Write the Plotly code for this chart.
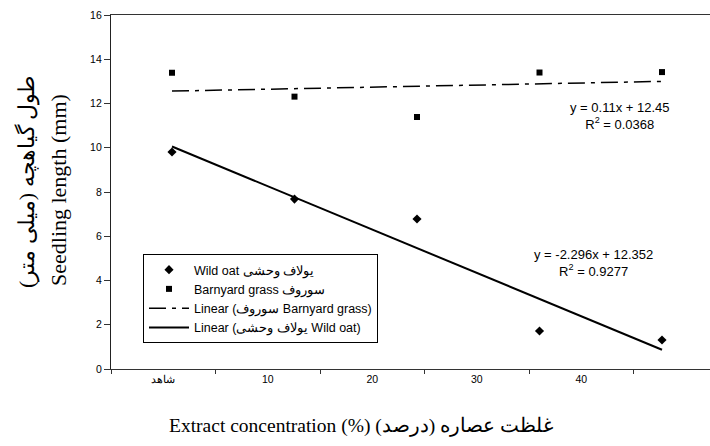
import numpy as np
import plotly.graph_objects as go

# ---- data ----
categories = ["شاهد", "10", "20", "30", "40"]
x_index = [1, 2, 3, 4, 5]
wild_oat = [9.81, 7.68, 6.78, 1.72, 1.31]
barnyard = [13.39, 12.31, 11.39, 13.40, 13.42]
wild_slope, wild_intercept, wild_r2 = -2.296, 12.352, 0.9277
barn_slope, barn_intercept, barn_r2 = 0.11, 12.45, 0.0368
y_ticks = [0, 2, 4, 6, 8, 10, 12, 14, 16]

name_wild = "Wild oat یولاف وحشی"
name_barn = "Barnyard grass سوروف"
name_lin_barn = "Linear (سوروف Barnyard grass)"
name_lin_wild = "Linear (یولاف وحشی Wild oat)"

W, H = 710, 446
L, R, T, B = 111, 0, 15, 77
PW, PH = W - L - R, H - T - B

def px(xp):
    return (xp - L) / PW

def py(yp):
    return (H - B - yp) / PH

xs = np.array([x_index[0], x_index[-1]], dtype=float)
wild_fit = wild_slope * xs + wild_intercept
barn_fit = barn_slope * xs + barn_intercept

fig = go.Figure()
fig.add_trace(go.Scatter(
    x=x_index, y=wild_oat, mode="markers", name=name_wild,
    marker=dict(symbol="diamond", size=7, color="black"), legendrank=1))
fig.add_trace(go.Scatter(
    x=x_index, y=barnyard, mode="markers", name=name_barn,
    marker=dict(symbol="square", size=6, color="black"), legendrank=2))
fig.add_trace(go.Scatter(
    x=xs, y=barn_fit, mode="lines", name=name_lin_barn,
    line=dict(color="black", width=1.5, dash="17px,6px,4px,6px"), legendrank=3))
fig.add_trace(go.Scatter(
    x=xs, y=wild_fit, mode="lines", name=name_lin_wild,
    line=dict(color="black", width=2), legendrank=4))
# category axis carrier
fig.add_trace(go.Scatter(
    x=categories, y=[0] * len(categories), xaxis="x2", mode="markers",
    marker=dict(opacity=0), showlegend=False, hoverinfo="skip"))

x_lo = 1 - (172 - L) / 122.5
x_hi = 1 + (W - R - 172) / 122.5
n_cat_span = PW / 104.5

fig.update_layout(
    width=W, height=H,
    margin=dict(l=L, r=R, t=T, b=B),
    paper_bgcolor="white", plot_bgcolor="white",
    font=dict(family="Liberation Sans, Arial", size=10, color="black"),
    showlegend=True,
    legend=dict(
        x=px(143), y=py(254), xanchor="left", yanchor="top",
        bgcolor="white", bordercolor="black", borderwidth=1,
        font=dict(family="Liberation Sans, Arial", size=12.5, color="black"),
        traceorder="normal", tracegroupgap=0, itemwidth=40,
    ),
    xaxis=dict(range=[x_lo, x_hi], visible=False, showgrid=False, zeroline=False),
    xaxis2=dict(
        type="category", overlaying="x", side="bottom",
        categoryorder="array", categoryarray=categories,
        range=[-0.5, -0.5 + n_cat_span],
        tickson="boundaries", ticks="outside", ticklen=4, tickcolor="#333",
        showline=True, linecolor="#333", linewidth=1, mirror=True,
        showgrid=False, zeroline=False,
        tickfont=dict(family="Liberation Sans, Arial", size=10.5),
        anchor="y",
    ),
    yaxis=dict(
        range=[0, 16], tickvals=y_ticks, ticks="outside", ticklen=6,
        tickcolor="#333", showline=True, linecolor="#222", linewidth=1.2,
        showgrid=False, zeroline=False,
        tickfont=dict(family="Liberation Sans, Arial", size=10.5),
    ),
)

annots = [
    dict(x=px(620), y=py(116), text=f"y = {barn_slope}x + {barn_intercept}<br>R<sup>2</sup> = {barn_r2}",
         font=dict(size=13)),
    dict(x=px(593), y=py(263), text=f"y = {wild_slope}x + {wild_intercept}<br>R<sup>2</sup> = {wild_r2}",
         font=dict(size=13)),
    dict(x=px(27), y=py(182), text="طول گیاهچه (میلی متر)\u200f", textangle=-90,
         font=dict(family="Liberation Serif, Times New Roman", size=22)),
    dict(x=px(58), y=py(190), text="Seedling length (mm)", textangle=-90,
         font=dict(family="Liberation Serif, Times New Roman", size=22)),
    dict(x=px(361), y=py(426), text="Extract concentration (%) غلظت عصاره (درصد)\u200f",
         font=dict(family="Liberation Serif, Times New Roman", size=19.5)),
]
for a in annots:
    a.update(xref="paper", yref="paper", showarrow=False, xanchor="center", yanchor="middle")
    fig.add_annotation(**a)

fig.write_html("out.html")
